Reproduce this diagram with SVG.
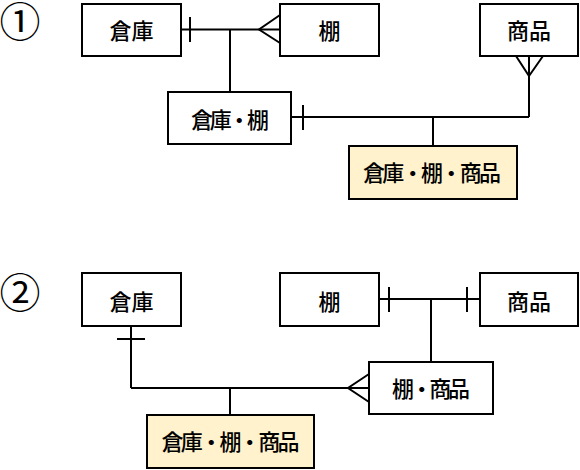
<svg xmlns="http://www.w3.org/2000/svg" width="580" height="470" viewBox="0 0 580 470">
<style>
.box{fill:#fff;stroke:#000;stroke-width:2}
.hl{fill:#fff2cc;stroke:#000;stroke-width:2}
.t{font-family:"Noto Sans CJK JP","Noto Sans",sans-serif;font-size:22px;font-weight:500;fill:#000;text-anchor:middle}
.n{font-family:"Noto Sans CJK JP","DejaVu Sans",sans-serif;font-size:41px;fill:#000;text-anchor:middle}
.c line,.c polyline{stroke:#000;stroke-width:2;fill:none}
</style>
<rect width="580" height="470" fill="#fff"/>
<text class="n" x="20" y="37">①</text>
<text class="n" x="20" y="308">②</text>
<g class="c" id="connectors">
<line x1="181" y1="29.5" x2="280" y2="29.5"/>
<line x1="190" y1="17" x2="190" y2="42"/>
<polyline points="280,15 259,29.5 280,43"/>
<line x1="230" y1="29.5" x2="230" y2="92"/>
<line x1="291" y1="117" x2="529" y2="117"/>
<line x1="303" y1="105" x2="303" y2="130"/>
<line x1="529" y1="56" x2="529" y2="117"/>
<polyline points="516,56 529,76 543,56"/>
<line x1="433" y1="117" x2="433" y2="146"/>
<line x1="131" y1="326" x2="131" y2="388"/>
<line x1="117" y1="339" x2="145" y2="339"/>
<line x1="131" y1="388" x2="369" y2="388"/>
<polyline points="369,374 348,388 369,402"/>
<line x1="230" y1="388" x2="230" y2="415"/>
<line x1="379" y1="299" x2="480" y2="299"/>
<line x1="389" y1="287" x2="389" y2="312"/>
<line x1="467" y1="287" x2="467" y2="312"/>
<line x1="431" y1="299" x2="431" y2="362"/>
</g>
<g id="s1-souko"><rect class="box" x="82" y="4" width="99" height="52"/><text class="t" x="131.5" y="39">倉庫</text></g>
<g id="s1-tana"><rect class="box" x="280" y="4" width="99" height="52"/><text class="t" x="329.5" y="39">棚</text></g>
<g id="s1-shohin"><rect class="box" x="480" y="4" width="98" height="52"/><text class="t" x="529" y="39">商品</text></g>
<g id="s1-souko-tana"><rect class="box" x="168" y="92" width="123" height="52"/><text class="t" x="230" y="128" textLength="78" lengthAdjust="spacing">倉庫・棚</text></g>
<g id="s1-all"><rect class="hl" x="349" y="146" width="168" height="53"/><text class="t" x="432" y="181" textLength="138" lengthAdjust="spacing">倉庫・棚・商品</text></g>
<g id="s2-souko"><rect class="box" x="82" y="273" width="99" height="53"/><text class="t" x="131.5" y="310">倉庫</text></g>
<g id="s2-tana"><rect class="box" x="280" y="273" width="99" height="53"/><text class="t" x="329.5" y="310">棚</text></g>
<g id="s2-shohin"><rect class="box" x="480" y="273" width="98" height="53"/><text class="t" x="529" y="310">商品</text></g>
<g id="s2-tana-shohin"><rect class="box" x="369" y="362" width="124" height="52"/><text class="t" x="431" y="397" textLength="78" lengthAdjust="spacing">棚・商品</text></g>
<g id="s2-all"><rect class="hl" x="147" y="415" width="167" height="53"/><text class="t" x="230.5" y="450" textLength="138" lengthAdjust="spacing">倉庫・棚・商品</text></g>
</svg>
